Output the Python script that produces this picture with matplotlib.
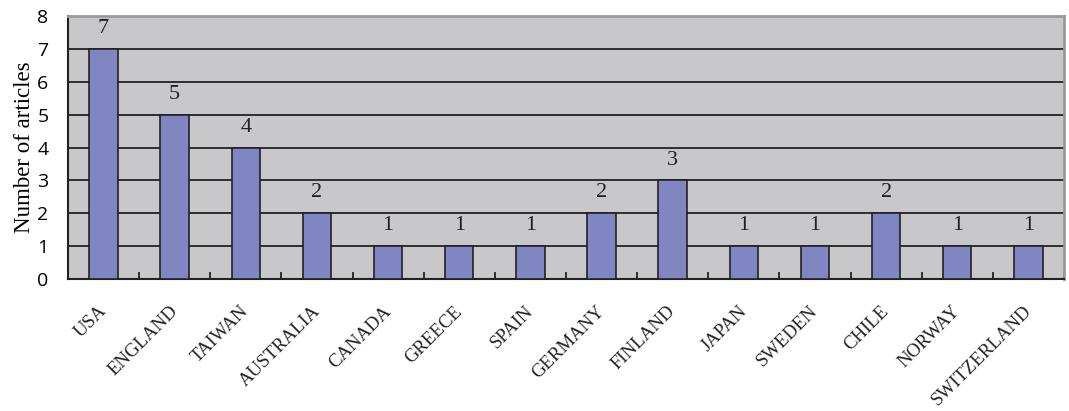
import matplotlib.pyplot as plt
import numpy as np

countries = ['USA', 'ENGLAND', 'TAIWAN', 'AUSTRALIA', 'CANADA', 'GREECE', 'SPAIN',
             'GERMANY', 'FINLAND', 'JAPAN', 'SWEDEN', 'CHILE', 'NORWAY', 'SWITZERLAND']
articles = [7, 5, 4, 2, 1, 1, 1, 2, 3, 1, 1, 2, 1, 1]

fig = plt.figure(figsize=(10.69, 4.11), dpi=100)
ax = fig.add_axes([0.0636, 0.321, 0.9317, 0.640])
ax.set_facecolor('#c8c8ca')

x = np.arange(len(countries))
ax.set_axisbelow(True)
ax.yaxis.grid(True, color='#222222', linewidth=1.3)
bars = ax.bar(x, articles, width=0.4, color='#8086c2', edgecolor='#222222', linewidth=1.2, zorder=3)

for xi, v in zip(x, articles):
    ax.text(xi, v + 0.33, str(v), ha='center', va='bottom', fontsize=16,
            family='Liberation Serif', color='#222222')

ax.set_xlim(-0.5, len(countries) - 0.5)
ax.set_ylim(0, 8)
ax.set_yticks(range(0, 9))
ax.set_yticklabels([str(i) for i in range(0, 9)], fontsize=14, family='Open Sans')
ax.tick_params(axis='y', length=0, pad=14)

# category boundary ticks on the bottom edge
ax.set_xticks(np.arange(-0.5, len(countries)), minor=False)
ax.set_xticklabels([])
ax.tick_params(axis='x', which='major', direction='in', length=5, width=1.3, color='#222222')
for xi, name in zip(x, countries):
    ax.text(xi - 0.08, -0.72, name, rotation=45, ha='right', va='top',
            rotation_mode='anchor', fontsize=13.5, family='Liberation Serif', color='#222222')

ax.set_ylabel('Number of articles', fontsize=16.5, family='Liberation Serif', labelpad=2)

for side in ['left', 'bottom']:
    ax.spines[side].set_color('#222222')
    ax.spines[side].set_linewidth(1.5)
for side in ['top', 'right']:
    ax.spines[side].set_color('#999999')
    ax.spines[side].set_linewidth(2)

fig.savefig('out.png', dpi=100)
